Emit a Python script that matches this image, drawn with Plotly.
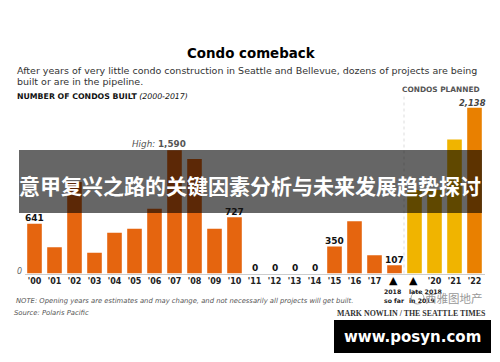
import plotly.graph_objects as go

years = ["'00","'01","'02","'03","'04","'05","'06","'07","'08","'09","'10","'11","'12","'13","'14","'15","'16","'17","2018 so far","late 2018","'20","'21","'22"]
tick_labels = ["'00","'01","'02","'03","'04","'05","'06","'07","'08","'09","'10","'11","'12","'13","'14","'15","'16","'17","","","'20","'21","'22"]
values = [641,338,1180,268,526,578,836,1590,1477,578,727,0,0,0,0,350,673,235,107,1077,1077,1730,2138]
value_labels = ["641","","","","","","","","","","727","0","0","0","0","350","","","107","","","",""]
ORANGE = "#E5650F"; YELLOW = "#F0B400"; DEEP = "#E98000"
colors = [ORANGE]*19 + [YELLOW]*3 + [DEEP]

W, H = 500, 362
BASE = 273.5; TOP = 100.0; PX = 0.0775
DJ = "DejaVu Sans"

fig = go.Figure(go.Bar(
    x=years, y=values, marker=dict(color=colors, line=dict(width=0)),
    cliponaxis=False, hoverinfo="skip", width=0.73,
))

for yr, val, lab in zip(years, values, value_labels):
    if lab:
        fig.add_annotation(x=yr, y=val, xref="x", yref="y", text=lab, showarrow=False,
                           yanchor="middle", yshift=5.5,
                           font=dict(family=DJ, size=9, color="#111", weight=700))

def note(x, y, text, size=8, color="#222", family=DJ, anchor="left", **kw):
    fig.add_annotation(x=x/W, y=1-y/H, xref="paper", yref="paper", text=text, showarrow=False,
                       xanchor=anchor, yanchor="middle", align=anchor,
                       font=dict(family=family, size=size, color=color, **kw))

note(251, 53, "Condo comeback", size=13.4, color="#000", anchor="center", weight=700)
note(15, 70.5, "After years of very little condo construction in Seattle and Bellevue, dozens of projects are being", size=9.5, color="#333")
note(15, 81.5, "built or are in the pipeline.", size=9.5, color="#333")
note(15, 97, "<b>NUMBER OF CONDOS BUILT</b> <i>(2000-2017)</i>", size=7.8, color="#111")
note(441, 89.5, "CONDOS PLANNED", size=7.4, color="#555", anchor="center", weight=700)
note(472.5, 102.5, "<i><b>2,138</b></i>", size=8.4, color="#444", anchor="center")
note(159, 144.5, "<i>High:</i> <b>1,590</b>", size=8.8, color="#555", anchor="center")
note(19, 271.5, "<i>0</i>", size=8, color="#666", anchor="center")
note(14, 301, "<i>NOTE: Opening years are estimates and may change, and not necessarily all projects will get built.</i>", size=6.8, color="#555")
note(12, 312.5, "<i>Source: Polaris Pacific</i>", size=6.8, color="#555")
note(411.5, 313, "<b>MARK NOWLIN / THE SEATTLE TIMES</b>", size=7.9, color="#333", family="Liberation Serif", anchor="center")
note(393.5, 280, "▲", size=11, color="#000", anchor="center")
note(413.5, 280, "▲", size=11, color="#000", anchor="center")
note(382, 291, "<b>2018</b>", size=6.2, color="#222")
note(382, 300, "<b>so far</b>", size=6.2, color="#222")
note(407, 291, "<b>late 2018</b>", size=6.2, color="#222")
note(407, 300, "<b>in 2019</b>", size=6.2, color="#222")
note(454, 298, "西雅图地产", size=11.5, color="#999", family="Noto Sans CJK SC", anchor="center")
note(250, 185, "意甲复兴之路的关键因素分析与未来发展趋势探讨", size=21, color="#fff", family="Noto Sans CJK SC", anchor="center", weight=700)
note(412.5, 337, "www.posyn.com", size=15, color="#fff", anchor="center", weight=700)

fig.add_shape(type="line", xref="paper", yref="paper", x0=404/W, x1=404/W, y0=1-BASE/H, y1=1-95/H,
              line=dict(color="#ddd", width=1, dash="dot"), layer="above")
fig.add_shape(type="circle", xref="paper", yref="paper", x0=411/W, x1=424/W, y0=1-304/H, y1=1-292/H,
              line=dict(color="#aaa", width=1), layer="above")
fig.add_shape(type="rect", xref="paper", yref="paper", x0=19/W, x1=482/W, y0=1-213/H, y1=1-150/H,
              fillcolor="rgba(0,0,0,0.6)", line=dict(width=0), layer="above")
fig.add_shape(type="rect", xref="paper", yref="paper", x0=334/W, x1=491/W, y0=1-353/H, y1=1-320/H,
              fillcolor="#000", line=dict(width=0), layer="above")

fig.update_layout(
    width=W, height=H, margin=dict(l=0, r=0, t=0, b=0, pad=0), autosize=False,
    paper_bgcolor="#fff", plot_bgcolor="#fff", showlegend=False,
    xaxis=dict(domain=[24.5/W, 484.5/W], type="category", categoryorder="array", categoryarray=years,
               range=[-0.5, 22.5], tickmode="array", tickvals=years, ticktext=tick_labels,
               tickfont=dict(family=DJ, size=8, color="#222", weight=700), ticks="",
               showgrid=False, showline=True, linecolor="#ccc", linewidth=1),
    yaxis=dict(domain=[1-BASE/H, 1-TOP/H], range=[0, (BASE-TOP)/PX], visible=False),
)
fig.write_html("out.html", config={"displayModeBar": False},
               post_script="document.body.style.margin='0';document.documentElement.style.overflow='hidden';")
